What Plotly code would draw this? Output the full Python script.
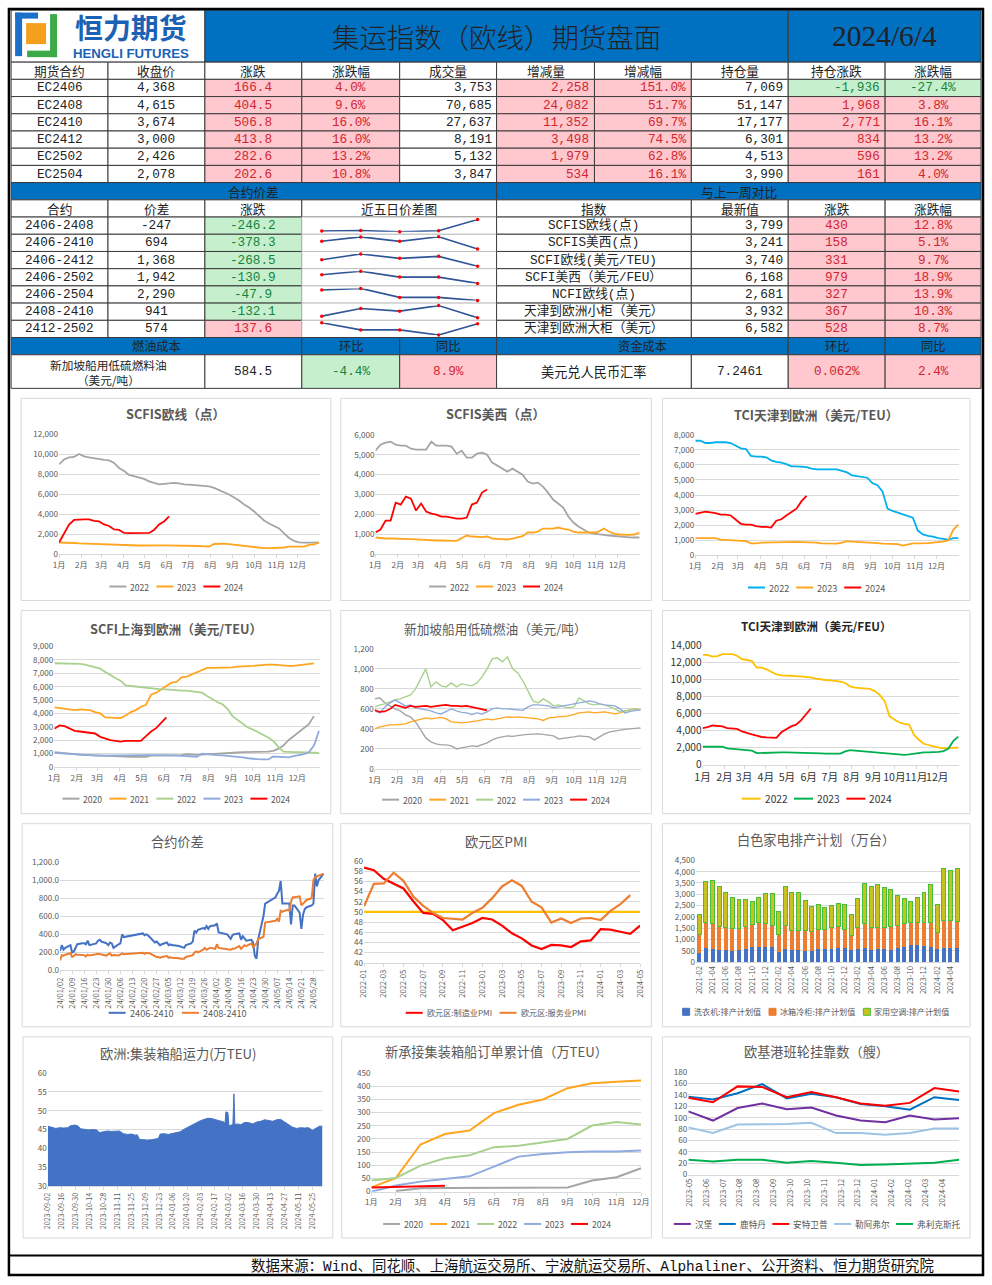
import plotly.graph_objects as go

# The photographed area maps page pixels p to picture pixels r = s*(p + 8); positions below are given in
# picture pixels and converted back to figure (paper) coordinates.
SX, SY = 992 / 1008, 1285 / 1301
FW, FH = 1000, 1293
FSF = 1 / SX
CJK = "Noto Sans CJK SC"
MONO = "Liberation Mono, Noto Sans CJK SC"

# ======================= TABLE DATA =======================
report_title = "集运指数（欧线）期货盘面"
report_date = "2024/6/4"
fut_headers = ['期货合约', '收盘价', '涨跌', '涨跌幅', '成交量', '增减量', '增减幅', '持仓量', '持仓涨跌', '涨跌幅']
fut_contracts = ['EC2406', 'EC2408', 'EC2410', 'EC2412', 'EC2502', 'EC2504']
fut_close = [4368, 4615, 3674, 3000, 2426, 2078]
fut_chg = [166.4, 404.5, 506.8, 413.8, 282.6, 202.6]
fut_chg_pct = [4.0, 9.6, 16.0, 16.0, 13.2, 10.8]
fut_volume = [3753, 70685, 27637, 8191, 5132, 3847]
fut_vol_chg = [2258, 24082, 11352, 3498, 1979, 534]
fut_vol_chg_pct = [151.0, 51.7, 69.7, 74.5, 62.8, 16.1]
fut_oi = [7069, 51147, 17177, 6301, 4513, 3990]
fut_oi_chg = [-1936, 1968, 2771, 834, 596, 161]
fut_oi_chg_pct = [-27.4, 3.8, 16.1, 13.2, 13.2, 4.0]

spread_headers = ['合约', '价差', '涨跌', '近五日价差图']
spread_names = ['2406-2408', '2406-2410', '2406-2412', '2406-2502', '2406-2504', '2408-2410', '2412-2502']
spread_values = [-247, 694, 1368, 1942, 2290, 941, 574]
spread_changes = [-246.2, -378.3, -268.5, -130.9, -47.9, -132.1, 137.6]
spark_2406_2408 = [-5, 6, -20, 1, 247]
spark_2406_2410 = [935, 1068, 930, 1072, 694]
spark_2406_2412 = [1544, 1701, 1581, 1636, 1368]
spark_2406_2502 = [2121, 2197, 2073, 2073, 1942]
spark_2406_2504 = [2448, 2472, 2338, 2338, 2290]
spark_2408_2410 = [959, 1041, 1013, 1073, 941]
spark_2412_2502 = [586, 499, 499, 436, 574]

index_headers = ['指数', '最新值', '涨跌', '涨跌幅']
index_names = ['SCFIS欧线(点)', 'SCFIS美西(点)', 'SCFI欧线(美元/TEU)', 'SCFI美西（美元/FEU）',
               'NCFI欧线(点)', '天津到欧洲小柜（美元）', '天津到欧洲大柜（美元）']
index_values = [3799, 3241, 3740, 6168, 2681, 3932, 6582]
index_changes = [430, 158, 331, 979, 327, 367, 528]
index_change_pct = [12.8, 5.1, 9.7, 18.9, 13.9, 10.3, 8.7]

fuel_label = '新加坡船用低硫燃料油<br>（美元/吨）'
fuel_price = 584.5
fuel_mom = -4.4
fuel_yoy = 8.9
fx_label = '美元兑人民币汇率'
fx_rate = '7.2461'
fx_mom = '0.062%'
fx_yoy = 2.4

footer_text = '数据来源：Wind、同花顺、上海航运交易所、宁波航运交易所、Alphaliner、公开资料、恒力期货研究院'

# ======================= CHART DATA =======================
month_labels = ['1月', '2月', '3月', '4月', '5月', '6月', '7月', '8月', '9月', '10月', '11月', '12月']

scfis_eu_2022 = [9000, 9500, 9700, 9750, 10050, 9800, 9700, 9600, 9500, 9450, 9400, 9150, 8650, 8350, 7950, 7800, 7700, 7550,
                 7300, 7150, 7000, 7050, 7100, 7150, 7100, 7000, 6980, 6950, 6900, 6850, 6800, 6650, 6450, 6200, 6000, 5700,
                 5400, 5000, 4700, 4300, 3800, 3400, 3100, 2850, 2600, 2100, 1650, 1350, 1200, 1180, 1160, 1180, 1200]
scfis_eu_2023 = [1200, 1200, 1180, 1150, 1120, 1100, 1080, 1050, 1030, 1000, 980, 950, 930, 900, 920, 900, 900, 900, 930, 930,
                 920, 920, 920, 910, 900, 890, 880, 860, 850, 820, 800, 1050, 1100, 1080, 1030, 970, 900, 850, 780, 700, 650,
                 630, 630, 630, 640, 700, 780, 760, 760, 780, 950, 1000, 1200]
scfis_eu_2024 = [1200, 2100, 3000, 3450, 3500, 3500, 3500, 3350, 3300, 3000, 2850, 2500, 2450, 2150, 2130, 2130, 2130, 2130,
                 2150, 2450, 3000, 3300, 3800]

scfis_us_2022 = [5200, 5500, 5600, 5650, 5500, 5450, 5450, 5300, 5250, 5250, 5250, 5650, 5450, 5450, 5450, 5400, 5050, 5200,
                 4850, 4850, 5050, 5100, 5000, 4600, 4450, 4300, 4150, 4300, 4150, 4000, 3650, 3550, 3600, 3400, 3100, 2750,
                 2550, 2350, 1900, 1600, 1400, 1250, 1100, 1050, 1000, 980, 950, 920, 900, 880, 860, 850, 850]
scfis_us_2023 = [850, 820, 800, 800, 800, 790, 780, 770, 760, 740, 720, 710, 700, 700, 690, 670, 680, 820, 950, 900, 880, 870,
                 900, 800, 780, 760, 750, 800, 850, 920, 1100, 1100, 1150, 1300, 1300, 1300, 1350, 1280, 1250, 1150, 1100,
                 1100, 1100, 1100, 1150, 1300, 1150, 1050, 1000, 980, 980, 1000, 1100]
scfis_us_2024 = [1100, 1250, 1700, 1700, 2600, 2500, 2900, 2800, 2200, 2550, 2150, 2050, 2000, 1900, 1900, 1850, 1800, 1800,
                 1850, 2500, 2600, 3100, 3250]

tci_teu_2022 = [7600, 7600, 7450, 7450, 7500, 7500, 7500, 7450, 7300, 7100, 7050, 6600, 6550, 6550, 6500, 6300, 6200, 6150,
                6050, 5900, 5900, 5900, 5850, 5750, 5700, 5700, 5700, 5700, 5700, 5600, 5500, 5300, 5250, 5200, 5150, 4800,
                4650, 4250, 3100, 2950, 2850, 2700, 2600, 2500, 1650, 1400, 1300, 1250, 1150, 1100, 1050, 1150, 1150]
tci_teu_2023 = [1150, 1150, 1150, 1150, 1150, 1050, 1030, 1000, 1000, 970, 950, 800, 800, 850, 860, 880, 900, 900, 900, 900,
                900, 890, 880, 870, 850, 800, 790, 780, 780, 850, 950, 920, 910, 900, 880, 850, 820, 780, 760, 750, 750, 660,
                750, 800, 800, 800, 820, 850, 880, 920, 1000, 1700, 2050]
tci_teu_2024 = [2750, 2850, 2900, 2850, 2800, 2700, 2700, 2650, 2400, 2100, 2050, 2050, 1950, 1900, 1900, 1850, 2300, 2400,
                2650, 2850, 3100, 3600, 3950]

scfi_2020 = [1100, 1050, 1000, 980, 950, 920, 900, 880, 850, 850, 830, 820, 800, 780, 750, 750, 750, 750, 760, 850, 850, 850,
             850, 860, 870, 880, 950, 920, 900, 920, 950, 980, 1000, 1030, 1050, 1060, 1080, 1100, 1100, 1120, 1120, 1130,
             1150, 1200, 1350, 1600, 2000, 2300, 2600, 2950, 3200, 3800]
scfi_2021 = [4450, 4400, 4400, 4300, 4250, 4300, 4300, 4250, 4100, 4000, 3700, 3700, 3700, 3650, 3850, 4100, 4250, 4500, 4650,
             5400, 5550, 5800, 6100, 6300, 6350, 6700, 6750, 6900, 7100, 7200, 7400, 7400, 7400, 7400, 7400, 7450, 7500, 7500,
             7550, 7550, 7600, 7650, 7650, 7650, 7600, 7550, 7550, 7550, 7600, 7600, 7650, 7750]
scfi_2022 = [7750, 7750, 7750, 7700, 7700, 7700, 7650, 7550, 7450, 7350, 7100, 6850, 6650, 6450, 6100, 6050, 6000, 5950, 5900,
             5900, 5850, 5800, 5800, 5750, 5750, 5700, 5700, 5650, 5600, 5550, 5300, 5050, 4850, 4700, 4350, 3800, 3500, 3250,
             2950, 2800, 2600, 2450, 2200, 1950, 1500, 1150, 1100, 1100, 1100, 1100, 1050, 1050, 1050]
scfi_2023 = [1050, 1020, 1000, 950, 950, 920, 900, 880, 850, 850, 860, 870, 870, 880, 880, 900, 900, 900, 890, 880, 880, 870,
             860, 850, 850, 820, 800, 780, 760, 1000, 950, 900, 880, 860, 830, 800, 780, 720, 650, 600, 580, 560, 560, 780,
             750, 720, 720, 800, 850, 950, 1100, 1600, 2700]
scfi_2024 = [2850, 3100, 3050, 2850, 2700, 2650, 2600, 2550, 2500, 2250, 2100, 2000, 1950, 1900, 1950, 1950, 1950, 1950, 2300,
             2650, 2900, 3300, 3700]

fuel_2020 = [700, 710, 660, 630, 600, 580, 540, 520, 470, 390, 310, 270, 250, 240, 240, 230, 200, 210, 220, 230, 225, 240, 260,
             290, 310, 320, 330, 325, 335, 340, 345, 350, 350, 345, 340, 330, 300, 305, 315, 320, 330, 325, 320, 290, 320, 350,
             370, 380, 385, 395, 400, 405, 410]
fuel_2021 = [400, 420, 430, 440, 440, 445, 450, 470, 485, 495, 510, 500, 505, 515, 500, 470, 465, 460, 465, 470, 480, 490, 500,
             490, 500, 510, 520, 515, 520, 515, 510, 505, 500, 485, 510, 515, 520, 525, 530, 545, 560, 565, 570, 560, 565, 570,
             560, 550, 560, 580, 590, 600, 590]
fuel_2022 = [620, 640, 650, 670, 690, 700, 720, 740, 800, 900, 1000, 820, 870, 830, 820, 860, 820, 850, 840, 830, 860, 920, 1000,
             1100, 1110, 1070, 1120, 1000, 960, 880, 780, 680, 660, 700, 670, 630, 640, 620, 610, 620, 710, 680, 650, 640, 650,
             640, 620, 600, 570, 580, 590, 600, 590]
fuel_2023 = [580, 560, 620, 660, 690, 660, 630, 640, 610, 600, 590, 580, 560, 550, 575, 600, 580, 565, 560, 545, 560, 550, 570,
             600, 610, 600, 600, 595, 590, 585, 620, 640, 640, 635, 630, 610, 620, 635, 640, 650, 660, 675, 680, 670, 650, 640,
             635, 630, 600, 560, 575, 585, 590]
fuel_2024 = [590, 570, 575, 600, 640, 625, 610, 630, 620, 625, 630, 620, 630, 635, 640, 630, 630, 625, 630, 620, 610, 595, 585]

tci_feu_2022 = [12900, 12900, 12700, 12750, 13000, 13000, 13000, 12800, 12400, 12300, 12200, 11400, 11400, 11200, 10900,
                10600, 10500, 10500, 10450, 10400, 10350, 10300, 10250, 10100, 10000, 9950, 9900, 9850, 9750, 9600, 9200,
                9050, 9000, 8950, 8900, 8650, 8200, 7500, 5700, 5300, 4950, 4800, 4700, 3500, 2900, 2450, 2300, 2100, 2000,
                1900, 1950, 2000, 2000]
tci_feu_2023 = [2100, 2100, 2100, 2100, 2100, 1900, 1850, 1800, 1800, 1750, 1650, 1350, 1350, 1380, 1400, 1400, 1430, 1450,
                1420, 1400, 1380, 1350, 1350, 1340, 1320, 1300, 1280, 1250, 1300, 1550, 1700, 1650, 1600, 1550, 1500, 1450,
                1400, 1350, 1300, 1250, 1200, 1150, 1200, 1300, 1400, 1450, 1450, 1450, 1500, 1600, 1900, 2800, 3300]
tci_feu_2024 = [4300, 4400, 4600, 4550, 4500, 4300, 4250, 4200, 3900, 3700, 3550, 3400, 3250, 3200, 3200, 3150, 3800, 4200,
                4500, 4700, 5200, 5900, 6600]

spread_dates = ['2024-01-02', '2024-01-03', '2024-01-04', '2024-01-05', '2024-01-08', '2024-01-09', '2024-01-10', '2024-01-11',
                '2024-01-12', '2024-01-15', '2024-01-16', '2024-01-17', '2024-01-18', '2024-01-19', '2024-01-22', '2024-01-23',
                '2024-01-24', '2024-01-25', '2024-01-26', '2024-01-29', '2024-01-30', '2024-01-31',
                '2024-02-01', '2024-02-02', '2024-02-05', '2024-02-06', '2024-02-07', '2024-02-08', '2024-02-19', '2024-02-20',
                '2024-02-21', '2024-02-22', '2024-02-23', '2024-02-26', '2024-02-27', '2024-02-28', '2024-02-29',
                '2024-03-01', '2024-03-04', '2024-03-05', '2024-03-06', '2024-03-07', '2024-03-08', '2024-03-11', '2024-03-12',
                '2024-03-13', '2024-03-14', '2024-03-15', '2024-03-18', '2024-03-19', '2024-03-20', '2024-03-21', '2024-03-22',
                '2024-03-25', '2024-03-26', '2024-03-27', '2024-03-28', '2024-03-29',
                '2024-04-01', '2024-04-02', '2024-04-03', '2024-04-08', '2024-04-09', '2024-04-10', '2024-04-11', '2024-04-12',
                '2024-04-15', '2024-04-16', '2024-04-17', '2024-04-18', '2024-04-19', '2024-04-22', '2024-04-23', '2024-04-24',
                '2024-04-25', '2024-04-26', '2024-04-29', '2024-04-30',
                '2024-05-06', '2024-05-07', '2024-05-08', '2024-05-09', '2024-05-10', '2024-05-13', '2024-05-14', '2024-05-15',
                '2024-05-16', '2024-05-17', '2024-05-20', '2024-05-21', '2024-05-22', '2024-05-23', '2024-05-24', '2024-05-27',
                '2024-05-28', '2024-05-29', '2024-05-30', '2024-05-31', '2024-06-03']
spread_2406_2410 = [215, 280, 230, 250, 280, 200, 210, 260, 290, 300, 300, 290, 330, 280, 290, 300, 330, 340, 320, 300, 280, 310,
                    300, 250, 290, 300, 400, 370, 410, 390, 400, 390, 370, 310, 320, 300, 280,
                    290, 310, 280, 290, 280, 280, 270, 265, 260, 250, 280, 300, 320, 440, 420, 450, 470, 460, 490, 460, 490,
                    500, 520, 420, 400, 370, 350, 390, 400, 410, 340, 380, 350, 330, 340, 310, 160, 130, 350, 600, 740,
                    810, 850, 880, 990, 740, 740, 740, 510, 720, 720, 640, 460, 620, 680, 700, 720, 740, 1070, 930, 1000,
                    1070]
spread_2408_2410 = [110, 170, 165, 175, 190, 150, 160, 180, 175, 170, 170, 155, 175, 165, 170, 180, 185, 180, 175, 165, 180, 190,
                    165, 170, 165, 180, 190, 180, 195, 185, 195, 190, 190, 160, 150, 150, 140,
                    150, 160, 140, 145, 140, 140, 135, 130, 130, 130, 150, 160, 170, 200, 210, 200, 230, 250, 230, 240, 250,
                    240, 290, 250, 240, 230, 230, 240, 240, 270, 240, 260, 280, 270, 300, 260, 280, 300, 350, 370, 530,
                    550, 570, 540, 660, 650, 670, 660, 760, 810, 810, 820, 720, 740, 760, 780, 800, 1000, 1030, 1040, 1050,
                    1070]
spread_ticks = ['24/01/02', '24/01/09', '24/01/16', '24/01/23', '24/01/30', '24/02/06', '24/02/13', '24/02/20', '24/02/27',
                '24/03/05', '24/03/12', '24/03/19', '24/03/26', '24/04/02', '24/04/09', '24/04/16', '24/04/23', '24/04/30',
                '24/05/07', '24/05/14', '24/05/21', '24/05/28']

pmi_months = ['2022-01', '2022-02', '2022-03', '2022-04', '2022-05', '2022-06', '2022-07', '2022-08', '2022-09', '2022-10',
              '2022-11', '2022-12', '2023-01', '2023-02', '2023-03', '2023-04', '2023-05', '2023-06', '2023-07', '2023-08',
              '2023-09', '2023-10', '2023-11', '2023-12', '2024-01', '2024-02', '2024-03', '2024-04', '2024-05']
pmi_manufacturing = [58.7, 58.2, 56.5, 55.5, 54.6, 52.1, 49.8, 49.6, 48.4, 46.4, 47.1, 47.8, 48.8, 48.5, 47.3, 45.8, 44.8, 43.4,
                     42.7, 43.5, 43.4, 43.1, 44.2, 44.4, 46.6, 46.5, 46.1, 45.7, 47.3]
pmi_services = [51.1, 55.5, 55.6, 57.7, 56.1, 53.0, 51.2, 49.8, 48.8, 48.6, 48.5, 49.8, 50.8, 52.7, 55.0, 56.2, 55.1, 52.0,
                50.9, 47.9, 48.7, 47.8, 48.7, 48.8, 48.4, 50.2, 51.5, 53.3, None]
pmi_threshold = 50

appliance_months = ['2021-02', '2021-03', '2021-04', '2021-05', '2021-06', '2021-07', '2021-08', '2021-09', '2021-10',
                    '2021-11', '2021-12', '2022-01', '2022-02', '2022-03', '2022-04', '2022-05', '2022-06', '2022-07',
                    '2022-08', '2022-09', '2022-10', '2022-11', '2022-12', '2023-01', '2023-02', '2023-03', '2023-04',
                    '2023-05', '2023-06', '2023-07', '2023-08', '2023-09', '2023-10', '2023-11', '2023-12', '2024-01',
                    '2024-02', '2024-03', '2024-04', '2024-05']
washer_plan = [413, 620, 590, 546, 516, 487, 546, 560, 650, 680, 680, 650, 443, 590, 531, 531, 487, 472, 560, 560, 590, 620,
               605, 546, 575, 620, 546, 575, 560, 546, 620, 664, 767, 738, 693, 680, 590, 634, 620, 620]
fridge_plan = [812, 1120, 1106, 1047, 1033, 988, 959, 1033, 1002, 1090, 1046, 973, 767, 1033, 870, 870, 900, 885, 886, 886, 930,
               958, 826, 634, 974, 1106, 988, 974, 989, 1017, 1003, 1032, 1003, 1032, 1077, 1075, 708, 1210, 1209, 1194]
aircon_plan = [885, 1845, 1918, 1755, 1549, 1372, 1253, 1180, 1018, 1077, 1298, 1401, 1032, 1740, 1667, 1667, 1342, 1106, 1091,
               988, 988, 1003, 1136, 915, 1254, 1740, 1829, 1888, 1740, 1638, 1327, 1107, 930, 1077, 1298, 1682, 1239, 2286,
               2227, 2316]

capacity_dates = ['2023-09-02', '2023-09-06', '2023-09-10', '2023-09-14', '2023-09-18', '2023-09-22', '2023-09-25',
                  '2023-09-29', '2023-10-02', '2023-10-05', '2023-10-09', '2023-10-13', '2023-10-17', '2023-10-21',
                  '2023-10-24', '2023-10-28', '2023-11-01', '2023-11-05', '2023-11-09', '2023-11-13', '2023-11-17',
                  '2023-11-21', '2023-11-25', '2023-11-29', '2023-12-01', '2023-12-03', '2023-12-07', '2023-12-11',
                  '2023-12-15', '2023-12-19', '2023-12-22', '2023-12-24', '2023-12-28', '2024-01-01', '2024-01-05',
                  '2024-01-09', '2024-01-13', '2024-01-17', '2024-01-21', '2024-01-25', '2024-01-29', '2024-02-02',
                  '2024-02-06', '2024-02-10', '2024-02-14', '2024-02-18', '2024-02-22', '2024-02-26', '2024-02-27',
                  '2024-02-28', '2024-03-01', '2024-03-02', '2024-03-05', '2024-03-06', '2024-03-07', '2024-03-08',
                  '2024-03-10', '2024-03-14', '2024-03-18', '2024-03-22', '2024-03-26', '2024-03-30', '2024-04-03',
                  '2024-04-07', '2024-04-11', '2024-04-15', '2024-04-19', '2024-04-23', '2024-04-27', '2024-05-01',
                  '2024-05-05', '2024-05-09', '2024-05-13', '2024-05-17', '2024-05-21', '2024-05-25', '2024-05-28',
                  '2024-06-01', '2024-06-04']
capacity_values = [45.9, 45.6, 45.3, 45.5, 45.4, 45.5, 46.0, 46.2, 46.0, 45.2, 45.0, 44.9, 45.0, 44.9, 44.2, 44.5, 44.6, 44.5,
                   44.6, 44.6, 43.9, 43.7, 43.8, 43.5, 43.6, 42.4, 42.3, 42.2, 42.3, 42.4, 42.6, 43.8, 43.9, 43.7, 44.0, 44.3,
                   44.4, 45.1, 45.7, 46.3, 46.8, 47.3, 47.7, 48.0, 47.9, 47.7, 47.3, 47.0, 46.4, 49.7, 49.5, 46.0, 46.3, 46.3,
                   54.5, 46.2, 46.5, 46.3, 46.9, 46.8, 46.5, 47.0, 47.2, 47.6, 47.4, 47.2, 47.6, 47.7, 47.0, 46.4, 45.6, 45.3,
                   45.5, 45.4, 45.5, 44.8, 45.2, 45.9, 45.9]
capacity_ticks = ['2023-09-02', '2023-09-16', '2023-09-30', '2023-10-14', '2023-10-28', '2023-11-11', '2023-11-25',
                  '2023-12-09', '2023-12-23', '2024-01-06', '2024-01-20', '2024-02-03', '2024-02-17', '2024-03-02',
                  '2024-03-16', '2024-03-30', '2024-04-13', '2024-04-27', '2024-05-11', '2024-05-25']

orders_2020 = [None, 2, 13, 14, 14, 14, 14, 15, 16, 42, 55, 89]
orders_2021 = [16, 52, 179, 219, 232, 298, 330, 350, 393, 412, 417, 422]
orders_2022 = [42, 52, 99, 127, 138, 169, 174, 188, 200, 251, 264, 255]
orders_2023 = [0, 23, 38, 48, 58, 95, 133, 143, 150, 152, 152, 156]
orders_2024 = [16, 18, 20, 22]

port_ticks = ['2023-05', '2023-06', '2023-07', '2023-08', '2023-08', '2023-09', '2023-10', '2023-10', '2023-11', '2023-12',
              '2023-12', '2024-01', '2024-02', '2024-02', '2024-03', '2024-04']
port_hamburg = [111, 95, 117, 125, 115, 118, 104, 95, 92, 104, 97, 99]
port_rotterdam = [137, 132, 143, 159, 134, 142, 136, 124, 120, 114, 136, 131]
port_antwerp = [135, 127, 155, 154, 136, 145, 136, 125, 121, 126, 152, 146]
port_lehavre = [83, 73, 88, 88, 89, 91, 73, 73, 70, 73, 81, 81]
port_felixstowe = [26, 23, 26, 26, 21, 24, 21, 17, 18, 19, 21, 26]

# ======================= HELPERS (picture-pixel -> paper) =======================
shapes, annotations, traces, axes_layout = [], [], [], {}


def X(px):
    return (px / SX - 8) / FW


def Y(py):
    return 1 - (py / SY - 8) / FH


def F(size):
    return size * FSF


def rect(x0, y0, x1, y1, fill='rgba(0,0,0,0)', line='#404040', lw=1, layer='below'):
    shapes.append(dict(type='rect', xref='paper', yref='paper', x0=X(x0), x1=X(x1), y0=Y(y1), y1=Y(y0),
                       fillcolor=fill, line=dict(color=line, width=lw), layer=layer))


def hline(x0, x1, y, color, width, layer='above'):
    shapes.append(dict(type='line', xref='paper', yref='paper', x0=X(x0), x1=X(x1), y0=Y(y), y1=Y(y),
                       line=dict(color=color, width=width), layer=layer))


def text(x, y, s, size=12, color='#1a1a1a', family=CJK, anchor='center', weight='normal'):
    annotations.append(dict(xref='paper', yref='paper', x=X(x), y=Y(y), text=s, showarrow=False,
                            xanchor=anchor, yanchor='middle', borderpad=0,
                            font=dict(size=F(size), color=color, family=family, weight=weight)))


CX = [11, 108, 205, 302, 400, 497, 595, 692, 789, 886, 982]
PINK, RED_T = '#FFC7CE', '#D0262F'
GREEN, GREEN_T = '#C6EFCE', '#13843A'
BLUE = '#0070C0'
TXT = '#222222'


def cell(c0, c1, r0, r1, s='', fill='white', color=TXT, align='center', size=12.5, family=MONO, weight='normal'):
    x0, x1 = CX[c0], CX[c1]
    rect(x0, r0, x1, r1, fill=fill, line='#3c3c3c', lw=1)
    if s != '':
        if align == 'right':
            text(x1 - 4, (r0 + r1) / 2, s, size, color, family, 'right', weight)
        else:
            text((x0 + x1) / 2, (r0 + r1) / 2, s, size, color, family, 'center', weight)


def sign_style(v):
    return (PINK, RED_T) if v > 0 else (GREEN, GREEN_T)


def axes(k, left, top, right, bottom, xa, ya):
    s = '' if k == 1 else str(k)
    axes_layout['xaxis' + s] = dict(domain=[X(left), X(right)], anchor='y' + s, **xa)
    axes_layout['yaxis' + s] = dict(domain=[Y(bottom), Y(top)], anchor='x' + s, **ya)
    return 'x' + s, 'y' + s


def tw(s, fs):
    return sum(fs if ord(ch) > 0x2E80 else fs * 0.56 for ch in s)


def legend(items, cx, cy, fs=8.5, color='#595959', sym=17, gap=8):
    widths = []
    for lbl, col, kind in items:
        widths.append((sym if kind == 'line' else 7) + 3 + tw(lbl, fs))
    total = sum(widths) + gap * (len(items) - 1)
    x = cx - total / 2
    for (lbl, col, kind), w in zip(items, widths):
        if kind == 'line':
            hline(x, x + sym, cy, col, 2)
            tx = x + sym + 3
        else:
            fill, edge = col
            rect(x, cy - 3.5, x + 7, cy + 3.5, fill=fill, line=edge, lw=1, layer='above')
            tx = x + 10
        text(tx, cy, lbl, fs, color, CJK, 'left')
        x += w + gap


def line(xa, ya, x, y, color, width=1.8):
    traces.append(go.Scatter(x=x, y=y, xaxis=xa, yaxis=ya, mode='lines', line=dict(color=color, width=width),
                             showlegend=False, hoverinfo='skip', connectgaps=False))


def panel(x0, y0, x1, y1, title, tx, ty, size=12.5, weight='bold', color='#595959'):
    rect(x0, y0, x1, y1, fill='white', line='#D9D9D9', lw=1)
    text(tx, ty, title, size, color, CJK, 'center', weight)


def tf(size, color='#595959'):
    return dict(size=F(size), color=color, family=CJK)


XB = dict(showgrid=False, zeroline=False, showline=True, linecolor='#D9D9D9', linewidth=1, ticks='outside', ticklen=3,
          tickcolor='#D9D9D9', tickfont=tf(8), fixedrange=True)
YB = dict(showgrid=True, gridcolor='#D9D9D9', gridwidth=1, zeroline=False, showline=False, ticks='', tickfont=tf(8),
          fixedrange=True)

MONTH_START_DAY = [0, 31, 59, 90, 120, 151, 181, 212, 243, 273, 304, 334]
week_month_ticks = [d / 7 for d in MONTH_START_DAY]


def week_x(series):
    return list(range(len(series)))


def month_x_axis(extra=None):
    d = dict(XB, range=[0, 365 / 7], tickvals=week_month_ticks, ticktext=month_labels, tickangle=0)
    if extra:
        d.update(extra)
    return d


GRAY, ORANGE, RED, LGREEN, LBLUE, SKY = '#A5A5A5', '#FFA51F', '#FF0000', '#A9D18E', '#8FAADC', '#00B0F0'

# ======================= PAGE FRAME =======================
rect(8.8, 8.8, 984, 1274, line='#000000', lw=2.5, layer='above')
hline(8.8, 984, 1254.5, '#000000', 2)
text(593, 1265, footer_text, 14.2, '#111111', MONO)

# ======================= TITLE ROW =======================
cell(0, 2, 10, 62, fill='white')
rect(15, 12.5, 22, 56, fill='#1A6FC9', line='rgba(0,0,0,0)', lw=0)
rect(15, 12.5, 38, 18.5, fill='#1A6FC9', line='rgba(0,0,0,0)', lw=0)
rect(50, 14, 57, 57, fill='#3DAA47', line='rgba(0,0,0,0)', lw=0)
rect(27, 50.5, 57, 57, fill='#3DAA47', line='rgba(0,0,0,0)', lw=0)
rect(26, 23, 46, 44, fill='#F5A01C', line='rgba(0,0,0,0)', lw=0)
text(131, 26.5, '恒力期货', 27.5, '#1B62B5', CJK, 'center', 'bold')
text(131, 53, 'HENGLI FUTURES', 13, '#1B62B5', 'Liberation Sans', 'center', 'bold')
cell(2, 8, 10, 62, report_title, fill=BLUE, size=27, family=CJK, weight=300)
cell(8, 10, 10, 62, report_date, fill=BLUE, size=29, family='Liberation Serif')

# ======================= BLOCK A =======================
RH = 17.2
RA = [62 + RH * i for i in range(8)]
for j, hdr in enumerate(fut_headers):
    cell(j, j + 1, RA[0], RA[1], hdr, size=12.5, family=CJK)
for i in range(6):
    r0, r1 = RA[i + 1], RA[i + 2]
    cell(0, 1, r0, r1, fut_contracts[i])
    cell(1, 2, r0, r1, f'{fut_close[i]:,}')
    f, c = sign_style(fut_chg[i]); cell(2, 3, r0, r1, f'{fut_chg[i]:.1f}', f, c)
    f, c = sign_style(fut_chg_pct[i]); cell(3, 4, r0, r1, f'{fut_chg_pct[i]:.1f}%', f, c)
    cell(4, 5, r0, r1, f'{fut_volume[i]:,}', align='right')
    f, c = sign_style(fut_vol_chg[i]); cell(5, 6, r0, r1, f'{fut_vol_chg[i]:,}', f, c, 'right')
    f, c = sign_style(fut_vol_chg_pct[i]); cell(6, 7, r0, r1, f'{fut_vol_chg_pct[i]:.1f}%', f, c, 'right')
    cell(7, 8, r0, r1, f'{fut_oi[i]:,}', align='right')
    f, c = sign_style(fut_oi_chg[i]); cell(8, 9, r0, r1, f'{fut_oi_chg[i]:,}', f, c, 'right')
    f, c = sign_style(fut_oi_chg_pct[i]); cell(9, 10, r0, r1, f'{fut_oi_chg_pct[i]:.1f}%', f, c)

# band 1
B1 = (RA[7], RA[7] + RH)
cell(0, 5, B1[0], B1[1], '合约价差', fill=BLUE, size=12.5, family=CJK)
cell(5, 10, B1[0], B1[1], '与上一周对比', fill=BLUE, size=12.5, family=CJK)

# ======================= BLOCK C =======================
RC = [B1[1] + RH * i for i in range(9)]
cell(0, 1, RC[0], RC[1], spread_headers[0], size=12.5, family=CJK)
cell(1, 2, RC[0], RC[1], spread_headers[1], size=12.5, family=CJK)
cell(2, 3, RC[0], RC[1], spread_headers[2], size=12.5, family=CJK)
cell(3, 5, RC[0], RC[1], spread_headers[3], size=12.5, family=CJK)
cell(5, 7, RC[0], RC[1], index_headers[0], size=12.5, family=CJK)
cell(7, 8, RC[0], RC[1], index_headers[1], size=12.5, family=CJK)
cell(8, 9, RC[0], RC[1], index_headers[2], size=12.5, family=CJK)
cell(9, 10, RC[0], RC[1], index_headers[3], size=12.5, family=CJK)
spark_rows = [spark_2406_2408, spark_2406_2410, spark_2406_2412, spark_2406_2502, spark_2406_2504, spark_2408_2410,
              spark_2412_2502]
for i in range(7):
    r0, r1 = RC[i + 1], RC[i + 2]
    cell(0, 1, r0, r1, spread_names[i])
    cell(1, 2, r0, r1, f'{spread_values[i]:,}')
    f, c = sign_style(spread_changes[i]); cell(2, 3, r0, r1, f'{spread_changes[i]:.1f}', f, c)
    rect(CX[3], r0, CX[5], r1, fill='white', line='#BFBFBF', lw=1)
    cell(5, 7, r0, r1, index_names[i])
    cell(7, 8, r0, r1, f'{index_values[i]:,}', align='right')
    f, c = sign_style(index_changes[i]); cell(8, 9, r0, r1, f'{index_changes[i]}', f, c)
    f, c = sign_style(index_change_pct[i]); cell(9, 10, r0, r1, f'{index_change_pct[i]:.1f}%', f, c)
    vals = spark_rows[i]
    xa, ya = axes(13 + i, 322, r0 + 2.5, 478, r1 - 2.5,
                  dict(visible=False, range=[0, 4], fixedrange=True),
                  dict(visible=False, range=[min(vals), max(vals)], fixedrange=True))
    traces.append(go.Scatter(x=list(range(len(vals))), y=vals, xaxis=xa, yaxis=ya, mode='lines+markers',
                             line=dict(color='#2F5597', width=1.6), marker=dict(color='#FF0000', size=3.5),
                             cliponaxis=False, showlegend=False, hoverinfo='skip'))

# band 2
B2 = (RC[8], RC[8] + RH)
cell(0, 3, B2[0], B2[1], '燃油成本', fill=BLUE, size=12, family=CJK)
cell(3, 4, B2[0], B2[1], '环比', fill=BLUE, size=12, family=CJK)
cell(4, 5, B2[0], B2[1], '同比', fill=BLUE, size=12, family=CJK)
cell(5, 8, B2[0], B2[1], '资金成本', fill=BLUE, size=12, family=CJK)
cell(8, 9, B2[0], B2[1], '环比', fill=BLUE, size=12, family=CJK)
cell(9, 10, B2[0], B2[1], '同比', fill=BLUE, size=12, family=CJK)

# last row
L0, L1 = B2[1], 388
cell(0, 2, L0, L1, fuel_label, size=11.5, family=CJK)
cell(2, 3, L0, L1, f'{fuel_price:.1f}')
f, c = sign_style(fuel_mom); cell(3, 4, L0, L1, f'{fuel_mom:.1f}%', f, c)
f, c = sign_style(fuel_yoy); cell(4, 5, L0, L1, f'{fuel_yoy:.1f}%', f, c)
cell(5, 7, L0, L1, fx_label, size=13, family=CJK)
cell(7, 8, L0, L1, fx_rate)
cell(8, 9, L0, L1, fx_mom, PINK, RED_T)
f, c = sign_style(fx_yoy); cell(9, 10, L0, L1, f'{fx_yoy:.1f}%', f, c)

# ======================= CHART 1: SCFIS 欧线 =======================
panel(21, 398, 331, 600, 'SCFIS欧线（点）', 176, 413.5)
xa, ya = axes(1, 59, 434, 320, 554, month_x_axis(), dict(YB, range=[0, 12000], dtick=2000, tickformat=','))
line(xa, ya, week_x(scfis_eu_2022), scfis_eu_2022, GRAY)
line(xa, ya, week_x(scfis_eu_2023), scfis_eu_2023, ORANGE)
line(xa, ya, week_x(scfis_eu_2024), scfis_eu_2024, RED)
legend([('2022', GRAY, 'line'), ('2023', ORANGE, 'line'), ('2024', RED, 'line')], 176, 586)

# ======================= CHART 2: SCFIS 美西 =======================
panel(341, 398, 652, 600, 'SCFIS美西（点）', 496, 413.5)
xa, ya = axes(2, 375.7, 434.3, 640.7, 554, month_x_axis(), dict(YB, range=[0, 6000], dtick=1000, tickformat=','))
line(xa, ya, week_x(scfis_us_2022), scfis_us_2022, GRAY)
line(xa, ya, week_x(scfis_us_2023), scfis_us_2023, ORANGE)
line(xa, ya, week_x(scfis_us_2024), scfis_us_2024, RED)
legend([('2022', GRAY, 'line'), ('2023', ORANGE, 'line'), ('2024', RED, 'line')], 496, 586)

# ======================= CHART 3: TCI TEU =======================
panel(663, 398, 971, 600, 'TCI天津到欧洲（美元/TEU）', 817, 414)
xa, ya = axes(3, 696, 434.3, 960, 555, month_x_axis(), dict(YB, range=[0, 8000], dtick=1000, tickformat=','))
line(xa, ya, week_x(tci_teu_2022), tci_teu_2022, SKY)
line(xa, ya, week_x(tci_teu_2023), tci_teu_2023, ORANGE)
line(xa, ya, week_x(tci_teu_2024), tci_teu_2024, RED)
legend([('2022', SKY, 'line'), ('2023', ORANGE, 'line'), ('2024', RED, 'line')], 817, 587, fs=9)

# ======================= CHART 4: SCFI 上海-欧洲 =======================
panel(21, 610, 331, 813, 'SCFI上海到欧洲（美元/TEU）', 176, 628)
xa, ya = axes(4, 54.3, 646, 320, 766.3, month_x_axis(), dict(YB, range=[0, 9000], dtick=1000, tickformat=','))
line(xa, ya, week_x(scfi_2020), scfi_2020, GRAY)
line(xa, ya, week_x(scfi_2021), scfi_2021, ORANGE)
line(xa, ya, week_x(scfi_2022), scfi_2022, LGREEN)
line(xa, ya, week_x(scfi_2023), scfi_2023, LBLUE)
line(xa, ya, week_x(scfi_2024), scfi_2024, RED)
legend([('2020', GRAY, 'line'), ('2021', ORANGE, 'line'), ('2022', LGREEN, 'line'), ('2023', LBLUE, 'line'),
        ('2024', RED, 'line')], 176, 798)

# ======================= CHART 5: 新加坡燃油 =======================
panel(341, 610, 652, 813, '新加坡船用低硫燃油（美元/吨）', 496, 628, size=12.5, weight='normal')
xa, ya = axes(5, 375, 648.3, 641.7, 768.3, month_x_axis(), dict(YB, range=[0, 1200], dtick=200, tickformat=','))
line(xa, ya, week_x(fuel_2020), fuel_2020, GRAY, 1.4)
line(xa, ya, week_x(fuel_2021), fuel_2021, ORANGE, 1.4)
line(xa, ya, week_x(fuel_2022), fuel_2022, LGREEN, 1.4)
line(xa, ya, week_x(fuel_2023), fuel_2023, LBLUE, 1.4)
line(xa, ya, week_x(fuel_2024), fuel_2024, RED, 1.6)
legend([('2020', GRAY, 'line'), ('2021', ORANGE, 'line'), ('2022', LGREEN, 'line'), ('2023', LBLUE, 'line'),
        ('2024', RED, 'line')], 496, 799)

# ======================= CHART 6: TCI FEU =======================
panel(663, 610, 971, 813, 'TCI天津到欧洲（美元/FEU）', 817, 625, size=11.5, weight='bold', color='#262626')
xa, ya = axes(6, 703.3, 645, 960, 764, month_x_axis(dict(tickfont=tf(10.5, '#333333'))),
              dict(YB, range=[0, 14000], dtick=2000, tickformat=',', tickfont=tf(10, '#333333')))
line(xa, ya, week_x(tci_feu_2022), tci_feu_2022, '#FFC000')
line(xa, ya, week_x(tci_feu_2023), tci_feu_2023, '#00B050')
line(xa, ya, week_x(tci_feu_2024), tci_feu_2024, RED)
legend([('2022', '#FFC000', 'line'), ('2023', '#00B050', 'line'), ('2024', RED, 'line')], 817, 798, fs=10,
       color='#333333', sym=19)

# ======================= CHART 7: 合约价差 =======================
panel(22, 823, 333, 1026, '合约价差', 178, 840.5, size=13, weight='normal')
spread_tickvals = ['20' + t.replace('/', '-') for t in spread_ticks]
xa, ya = axes(7, 60, 861.3, 324, 969.7,
              dict(XB, type='date', range=['2024-01-02', '2024-06-03'], tickvals=spread_tickvals, ticktext=spread_ticks,
                   tickangle=-90, tickfont=tf(7.5)),
              dict(YB, range=[0, 1200], dtick=200, tickformat=',.1f'))
line(xa, ya, spread_dates, spread_2406_2410, '#4472C4', 2)
line(xa, ya, spread_dates, spread_2408_2410, '#ED7D31', 2)
legend([('2406-2410', '#4472C4', 'line'), ('2408-2410', '#ED7D31', 'line')], 178, 1012, fs=9)

# ======================= CHART 8: 欧元区PMI =======================
panel(341, 823, 652, 1026, '欧元区PMI', 496, 840.5, size=13, weight='normal')
pmi_x = list(range(len(pmi_months)))
xa, ya = axes(8, 364.3, 860.3, 640.7, 962,
              dict(XB, range=[0, len(pmi_months) - 1], tickvals=pmi_x[::2], ticktext=pmi_months[::2], tickangle=-90,
                   tickfont=tf(7.5)),
              dict(YB, range=[40, 60], dtick=2))
line(xa, ya, pmi_x, [pmi_threshold for _ in pmi_x], '#FFC000', 2.2)
line(xa, ya, pmi_x, pmi_manufacturing, RED, 2.2)
line(xa, ya, pmi_x, pmi_services, '#ED7D31', 2.2)
legend([('欧元区:制造业PMI', RED, 'line'), ('欧元区:服务业PMI', '#ED7D31', 'line')], 496, 1012, fs=8)

# ======================= CHART 9: 白色家电 =======================
panel(663, 823, 971, 1026, '白色家电排产计划（万台）', 817, 839, size=13, weight='normal')
app_x = list(range(len(appliance_months)))
xa, ya = axes(9, 696.7, 859.7, 961.3, 961.3,
              dict(XB, range=[-0.5, len(appliance_months) - 0.5], tickvals=app_x[::2], ticktext=appliance_months[::2],
                   tickangle=-90, ticks='', tickfont=tf(7.5)),
              dict(YB, range=[0, 4500], dtick=500, tickformat=','))
traces.append(go.Bar(x=app_x, y=washer_plan, xaxis=xa, yaxis=ya, width=0.6, marker=dict(color='#4472C4', line=dict(width=0)),
                     showlegend=False, hoverinfo='skip'))
traces.append(go.Bar(x=app_x, y=fridge_plan, xaxis=xa, yaxis=ya, width=0.6, marker=dict(color='#ED7D31', line=dict(width=0)),
                     showlegend=False, hoverinfo='skip'))
traces.append(go.Bar(x=app_x, y=aircon_plan, xaxis=xa, yaxis=ya, width=0.6,
                     marker=dict(color='#C9C21E', line=dict(color='#45C03C', width=1)), showlegend=False, hoverinfo='skip'))
legend([('洗衣机:排产计划值', ('#4472C4', '#4472C4'), 'box'), ('冰箱冷柜:排产计划值', ('#ED7D31', '#ED7D31'), 'box'),
        ('家用空调:排产计划值', ('#C9C21E', '#45C03C'), 'box')], 817, 1011, fs=8)

# ======================= CHART 10: 欧洲集装箱船运力 =======================
panel(23, 1036, 333, 1237, '欧洲:集装箱船运力(万TEU)', 178, 1053, size=13, weight='normal')
xa, ya = axes(10, 47.7, 1072.3, 322.7, 1185,
              dict(XB, type='date', range=['2023-09-02', '2024-06-04'], tickvals=capacity_ticks, ticktext=capacity_ticks,
                   tickangle=-90, tickfont=tf(7)),
              dict(YB, range=[30, 60], dtick=5))
traces.append(go.Scatter(x=capacity_dates, y=capacity_values, xaxis=xa, yaxis=ya, mode='lines', fill='tozeroy',
                         fillcolor='#4472C4', line=dict(color='#4472C4', width=1), showlegend=False, hoverinfo='skip'))

# ======================= CHART 11: 新承接订单 =======================
panel(342, 1036, 652, 1237, '新承接集装箱船订单累计值（万TEU）', 497, 1051, size=13, weight='normal')
mx = list(range(12))
xa, ya = axes(11, 371.7, 1072.3, 641.7, 1190.7,
              dict(XB, range=[0, 11], tickvals=mx, ticktext=month_labels),
              dict(YB, range=[0, 450], dtick=50))
line(xa, ya, mx, orders_2020, GRAY, 2)
line(xa, ya, mx, orders_2021, ORANGE, 2)
line(xa, ya, mx, orders_2022, LGREEN, 2)
line(xa, ya, mx, orders_2023, LBLUE, 2)
line(xa, ya, mx[:len(orders_2024)], orders_2024, RED, 2)
legend([('2020', GRAY, 'line'), ('2021', ORANGE, 'line'), ('2022', LGREEN, 'line'), ('2023', LBLUE, 'line'),
        ('2024', RED, 'line')], 497, 1223)

# ======================= CHART 12: 欧基港挂靠 =======================
panel(663, 1036, 971, 1237, '欧基港班轮挂靠数（艘）', 817, 1051, size=13, weight='normal')
px_ = list(range(len(port_hamburg)))
span = len(port_hamburg) - 1
tick_step = span / 16.05
xa, ya = axes(12, 689, 1071.3, 960, 1173.7,
              dict(XB, range=[0, span], tickvals=[0.04 + tick_step * i for i in range(len(port_ticks))],
                   ticktext=port_ticks, tickangle=-90, ticks='', tickfont=tf(7.5)),
              dict(YB, range=[0, 180], dtick=20))
line(xa, ya, px_, port_felixstowe, '#00B050', 2)
line(xa, ya, px_, port_lehavre, '#9DC3E6', 2)
line(xa, ya, px_, port_hamburg, '#7030A0', 2)
line(xa, ya, px_, port_rotterdam, '#0070C0', 2)
line(xa, ya, px_, port_antwerp, RED, 2)
legend([('汉堡', '#7030A0', 'line'), ('鹿特丹', '#0070C0', 'line'), ('安特卫普', RED, 'line'),
        ('勒阿弗尔', '#9DC3E6', 'line'), ('弗利克斯托', '#00B050', 'line')], 817, 1223)

# ======================= FIGURE =======================
fig = go.Figure(data=traces)
fig.update_layout(width=FW, height=FH, margin=dict(l=0, r=0, t=0, b=0), paper_bgcolor='white', plot_bgcolor='white',
                  showlegend=False, barmode='stack', shapes=shapes, annotations=annotations,
                  font=dict(family=CJK), **axes_layout)
fig.write_html("out.html", config={'displayModeBar': False},
               post_script="document.body.style.margin='0px';document.documentElement.style.overflow='hidden';")
